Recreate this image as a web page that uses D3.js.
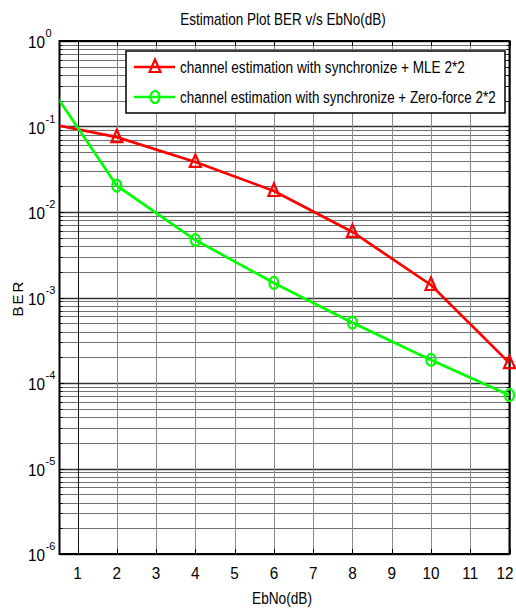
<!DOCTYPE html>
<html><head><meta charset="utf-8">
<script src="https://cdn.jsdelivr.net/npm/d3@7"></script>
<style>body{margin:0;background:#fff}svg{display:block}text{font-family:"Liberation Sans",Arial,sans-serif;fill:#000}</style>
</head><body><svg id="c" width="516" height="610"></svg>
<script>
const xValues = [0, 2, 4, 6, 8, 10, 12];
const berMLE = [0.114, 0.075, 0.0385, 0.0176, 0.00584, 0.0014, 0.000171];
const berZF = [0.47, 0.0203, 0.0047, 0.00148, 0.000507, 0.000186, 0.000072];
const markerShown = [false, true, true, true, true, true, true];
const xTicks = [1,2,3,4,5,6,7,8,9,10,11,12];
const yExponents = [0,-1,-2,-3,-4,-5,-6];
const seriesNames = ["channel estimation with synchronize + MLE 2*2","channel estimation with synchronize + Zero-force 2*2"];
const titleText = "Estimation Plot BER v/s EbNo(dB)";
const xLabel = "EbNo(dB)", yLabel = "BER";

const svg = d3.select("#c");
const L=59.5, R=509.5, T=41, B=554;
const x = d3.scaleLinear().domain([0.54,12]).range([L,R]);
const y = d3.scaleLog().domain([1e-6,1]).range([B,T]);

// condensed text helper: place text starting/centred at (px,py) squeezed to width w
function squeezed(parent, str, px, py, size, w, anchor){
  const gg = parent.append("g");
  const t = gg.append("text").attr("font-size",size).attr("text-anchor",anchor).text(str);
  const nat = t.node().getComputedTextLength();
  const k = w/nat;
  gg.attr("transform",`translate(${px},${py}) scale(${k},1)`);
  return gg;
}

// grid
const g = svg.append("g");
const minors=[];
for(let e=-6;e<0;e++) for(let m=2;m<=9;m++) minors.push(m*Math.pow(10,e));
g.selectAll(".mn").data(minors).enter().append("line")
 .attr("x1",L).attr("x2",R).attr("y1",d=>Math.round(y(d))+0.5).attr("y2",d=>Math.round(y(d))+0.5)
 .attr("stroke","#707070").attr("stroke-width",1);
g.selectAll(".mj").data(yExponents).enter().append("line")
 .attr("x1",L).attr("x2",R).attr("y1",d=>Math.round(y(Math.pow(10,d)))+0.5).attr("y2",d=>Math.round(y(Math.pow(10,d)))+0.5)
 .attr("stroke","#333").attr("stroke-width",1.5);
g.selectAll(".vx").data(xTicks).enter().append("line")
 .attr("y1",T).attr("y2",B).attr("x1",d=>Math.round(x(d))+0.5).attr("x2",d=>Math.round(x(d))+0.5)
 .attr("stroke",d=>d===1?"#111":"#8a8a8a").attr("stroke-width",1);

// ticks (inward) on all sides
const tk = svg.append("g").attr("stroke","#000").attr("stroke-width",1);
xTicks.forEach(d=>{const px=Math.round(x(d))+0.5;
 tk.append("line").attr("x1",px).attr("x2",px).attr("y1",B).attr("y2",B-5);
 tk.append("line").attr("x1",px).attr("x2",px).attr("y1",T).attr("y2",T+5);});
minors.forEach(d=>{const py=Math.round(y(d))+0.5;
 tk.append("line").attr("x1",L).attr("x2",L+3).attr("y1",py).attr("y2",py);
 tk.append("line").attr("x1",R).attr("x2",R-3).attr("y1",py).attr("y2",py);});
yExponents.forEach(e=>{const py=Math.round(y(Math.pow(10,e)))+0.5;
 tk.append("line").attr("x1",L).attr("x2",L+5).attr("y1",py).attr("y2",py);
 tk.append("line").attr("x1",R).attr("x2",R-5).attr("y1",py).attr("y2",py);});

// box
svg.append("rect").attr("x",L).attr("y",T).attr("width",R-L).attr("height",B-T)
 .attr("fill","none").attr("stroke","#000").attr("stroke-width",2);

// tick labels
const xl = svg.append("g").attr("font-size",17).attr("text-anchor","middle");
xTicks.forEach(d=>{ const gx = xl.append("g").attr("transform",`translate(${Math.min(x(d),505)},579) scale(0.9,1)`);
  gx.append("text").text(d);});
const yl = svg.append("g").attr("font-size",17);
yExponents.forEach(e=>{
 yl.append("g").attr("transform",`translate(45,${y(Math.pow(10,e))+7}) scale(0.9,1)`).append("text").attr("text-anchor","end").text("10");
 yl.append("text").attr("x",45.5).attr("y",y(Math.pow(10,e))-4).attr("font-size",11).text(e);});

// lines clipped
svg.append("clipPath").attr("id","cp").append("rect").attr("x",L).attr("y",T).attr("width",R-L).attr("height",B-T);
const line = d3.line().x(d=>x(d[0])).y(d=>y(d[1]));
const plot = svg.append("g").attr("clip-path","url(#cp)");
const series=[{v:berMLE,c:"#ff0000",m:"tri"},{v:berZF,c:"#00ff00",m:"circ"}];
function marker(sel,type,c){
 if(type==="tri") sel.append("path").attr("d","M0,-7.5L5.5,5L-5.5,5Z").attr("fill","none").attr("stroke",c).attr("stroke-width",2.2);
 else sel.append("ellipse").attr("rx",4.5).attr("ry",6).attr("fill","none").attr("stroke",c).attr("stroke-width",2.2);
}
series.forEach(s=>{
 const pts=xValues.map((xv,i)=>[xv,s.v[i]]);
 plot.append("path").datum(pts).attr("d",line).attr("fill","none").attr("stroke",s.c).attr("stroke-width",2.7);
});
series.forEach(s=>{
 xValues.forEach((xv,i)=>{ if(!markerShown[i]) return;
  const gm=svg.append("g").attr("transform",`translate(${x(xv)},${y(s.v[i])})`); marker(gm,s.m,s.c);});
});

// legend
const lg = svg.append("g");
lg.append("rect").attr("x",126).attr("y",51).attr("width",379).attr("height",62).attr("fill","#fff").attr("stroke","#000").attr("stroke-width",1.5);
series.forEach((s,i)=>{const yy=67+i*30;
 lg.append("line").attr("x1",134).attr("x2",175).attr("y1",yy).attr("y2",yy).attr("stroke",s.c).attr("stroke-width",2.7);
 marker(lg.append("g").attr("transform",`translate(155,${yy})`),s.m,s.c);
 squeezed(lg, seriesNames[i], 180, yy+6, 17, i===0?285:316, "start");
});

// title & labels
squeezed(svg, titleText, 283, 25, 16, 206, "middle");
squeezed(svg, xLabel, 282, 604, 16, 60, "middle");
svg.append("text").attr("transform","translate(23,298) rotate(-90)").attr("text-anchor","middle").attr("font-size",15).attr("letter-spacing",2).text(yLabel);
</script></body></html>
